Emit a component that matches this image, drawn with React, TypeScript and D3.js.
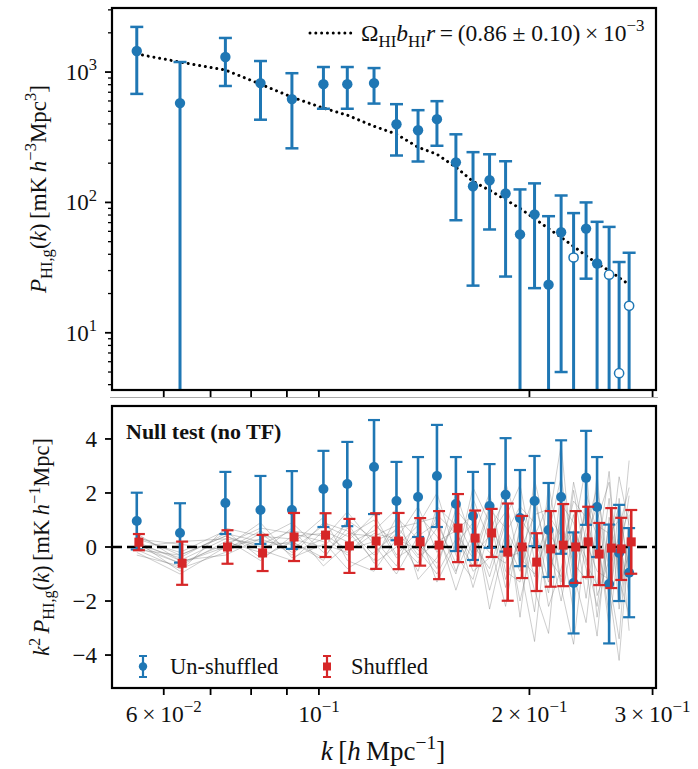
import React from 'react';
import * as d3 from 'd3';

// ---------- data ----------
const kValues = [0.0549, 0.0633, 0.0735, 0.0825, 0.0915, 0.1015, 0.1098, 0.1199, 0.1291, 0.1386, 0.1475, 0.157, 0.1661, 0.1754, 0.1849, 0.1939, 0.2034, 0.213, 0.222, 0.2313, 0.241, 0.2499, 0.26, 0.2687, 0.2777];
// cross power (negative values drawn as open circles at |P|)
const powerValues = [1450, 578, 1304, 823, 620, 808, 808, 823, 398, 358, 435, 203, 133, 148, 117, 56.8, 81, 23.4, 59, -37.8, 63, 34, -27.9, -4.9, -16.1];
const powerErrors = [770, 616, 522, 392, 360, 285, 285, 250, 169, 152, 163, 130, 110, 86, 90, 69, 59, 55, 54, 45, 37, 37, 37, 30, 25];
const modelValues = [1375, 1194, 1036, 808, 642, 529, 467, 384, 334, 265, 234, 186, 145, 124, 105, 90, 75, 63, 54, 46, 39, 34, 30, 26.5, 23.4];

const unshuffled = [0.96, 0.52, 1.63, 1.37, 1.37, 2.15, 2.33, 2.96, 1.7, 1.85, 2.63, 1.59, 1.15, 1.52, 1.93, 1.07, 1.7, 0.63, 1.85, -1.33, 2.56, 1.48, -1.37, -0.22, -0.95];
const unshuffledErr = [1.05, 1.1, 1.15, 1.26, 1.44, 1.41, 1.56, 1.74, 1.45, 1.48, 1.89, 1.74, 1.63, 1.55, 2.1, 1.78, 1.67, 1.74, 2.1, 1.87, 1.74, 1.85, 2.2, 1.78, 1.65];
const shuffled = [0.18, -0.6, 0.0, -0.22, 0.37, 0.44, 0.04, 0.22, 0.22, 0.19, 0.07, 0.7, 0.33, 0.52, -0.19, 0.0, -0.56, -0.07, 0.07, 0.0, 0.19, -0.26, -0.04, -0.07, 0.19];
const shuffledErr = [0.3, 0.8, 0.62, 0.67, 0.89, 0.81, 1.0, 1.03, 1.04, 0.88, 1.26, 1.26, 1.02, 0.89, 1.8, 1.15, 1.07, 1.4, 1.52, 1.33, 1.3, 1.15, 1.48, 1.15, 1.18];

const mock1 = [0.2, -0.5, 0.3, 0.1, 0.6, 0.4, -0.3, 0.8, 0.2, -0.6, 1.2, 0.5, -0.4, 1.5, -1.2, 0.3, 2.0, -0.8, 1.1, -1.5, 0.7, 2.2, -0.9, 0.4, -1.8];
const mock2 = [-0.1, -0.8, -0.2, 0.5, -0.3, 0.9, 0.6, -0.5, 1.1, 0.3, -0.8, 1.4, 0.6, -1.1, 0.9, -2.0, 0.4, 1.6, -1.3, 2.1, -0.6, -1.4, 1.8, -2.3, 0.6];
const mock3 = [0.3, -0.2, 0.6, -0.4, 0.2, -0.5, 1.0, 0.3, -0.7, 1.2, 0.4, -1.0, 1.8, 0.2, -2.2, 0.8, -1.1, 0.5, 2.6, -0.4, 1.3, -2.6, 0.3, 1.5, -0.9];
const mock4 = [0.0, -0.6, 0.1, 0.7, 0.5, 0.2, -0.8, -0.2, 0.5, -0.9, 1.5, 0.8, -1.5, 0.6, 1.8, -0.7, -3.5, 1.2, 0.4, -2.4, 2.0, 0.6, -3.0, 0.2, 1.4];
const mock5 = [0.4, -0.3, 0.4, -0.1, -0.5, 0.6, 0.2, 1.2, -0.3, 0.6, -1.3, 0.1, 0.9, -1.6, 0.5, 1.5, 0.9, -2.2, -0.8, 1.2, -1.9, 1.0, 2.4, -1.2, -2.5];
const mock6 = [-0.2, -1.0, 0.0, 0.3, 0.9, -0.2, 0.5, 0.4, 0.8, -0.3, 0.7, -1.6, 0.3, 2.0, -0.9, -1.3, 2.5, 0.2, -2.0, 0.5, 3.0, -1.8, -0.5, 2.6, 0.8];
const mock7 = [0.1, -0.4, 0.5, 0.2, 0.1, 1.1, -0.5, -0.9, 0.3, 1.5, -0.2, 0.9, -0.9, -0.4, 2.4, 0.5, -1.6, -3.2, 1.6, 0.9, -0.8, -3.3, 1.1, -0.6, 1.9];
const mock8 = [0.3, 0.1, -0.1, 0.6, -0.2, 0.3, 1.3, 0.1, -1.0, 0.4, 0.9, -0.6, 2.2, 0.9, -0.4, -0.2, 1.2, 1.4, -1.5, -3.6, 0.4, 1.5, -1.6, -4.2, 0.3];
const mock9 = [-0.3, -0.7, 0.2, -0.2, 0.7, -0.7, 0.1, 0.6, 1.4, -1.2, -0.4, 2.0, 0.1, -0.8, 1.1, 2.3, -0.5, 0.9, 3.8, -1.0, -2.8, 0.8, 0.5, 1.0, -3.1];
const mock10 = [0.2, -0.9, 0.7, 0.4, 0.3, 0.0, 0.9, -0.6, 0.0, 0.8, 2.0, -0.3, -1.2, 1.1, -1.5, 0.6, -2.4, 2.3, -0.2, 1.7, 1.1, -0.4, 2.8, -1.5, -0.2];
const mock11 = [0.0, 0.2, 0.3, -0.5, 0.4, 0.5, -0.1, 0.2, 0.6, -0.4, 0.2, 0.6, 1.2, -2.3, 0.3, -0.9, 0.8, -1.3, 0.9, -0.6, -1.2, 2.7, -2.1, 0.7, 2.2];
const mock12 = [0.5, -0.5, -0.3, 0.3, -0.1, 0.8, 0.4, 1.0, -0.4, 0.1, -0.6, 1.1, -0.3, 0.4, 1.3, -2.6, 1.7, -0.4, -1.1, 2.4, 0.2, -0.9, -1.2, -3.4, 1.2];
const mock13 = [-0.1, -0.3, 0.4, 0.0, 0.2, -0.4, 0.7, -0.3, 0.7, 0.9, 1.1, -0.9, 0.5, -0.2, -0.6, 1.1, 0.2, -1.7, 2.1, -1.2, 1.6, 0.4, -2.5, 1.8, -1.4];
const mock14 = [0.1, -0.6, 0.0, 0.9, -0.4, 0.1, -0.2, 0.5, 0.3, -0.1, -1.0, 0.3, -0.7, 1.4, 0.7, -0.4, -1.0, 0.6, -0.3, 0.6, -0.4, -2.2, 0.9, -0.8, 3.2];
const mockLines = [mock1, mock2, mock3, mock4, mock5, mock6, mock7, mock8, mock9, mock10, mock11, mock12, mock13, mock14];

const xTicks = [0.06, 0.07, 0.08, 0.09, 0.1, 0.2, 0.3];
const xLabelTicks = [0.06, 0.1, 0.2, 0.3];
const xLabelMantissa = ['6\u2009×\u2009', '', '2\u2009×\u2009', '3\u2009×\u2009'];
const xLabelExponent = ['−2', '−1', '−1', '−1'];
const yTopMajor = [10, 100, 1000];
const yTopMajorExp = ['1', '2', '3'];
const yTopMinor = [4, 5, 6, 7, 8, 9, 20, 30, 40, 50, 60, 70, 80, 90, 200, 300, 400, 500, 600, 700, 800, 900, 2000, 3000];
const yBottomTicks = [4, 2, 0, -2, -4];
const yBottomLabels = ['4', '2', '0', '−2', '−4'];

// ---------- layout ----------
const W = 698, H = 769;
const L = 112, R = 656;
const T1 = 8, B1 = 390;
const T2 = 406, B2 = 688;
const BLUE = '#1f77b4';
const RED = '#d62728';
const FONT = "'Liberation Serif', 'DejaVu Serif', serif";

type Part = { t: string; s?: 'sup' | 'sub'; i?: boolean };

function MText(props: { x: number; y: number; parts: Part[]; fs: number; anchor?: string; transform?: string; bold?: boolean }) {
  const { x, y, parts, fs, anchor, transform, bold } = props;
  let cur = 0;
  return (
    <text x={x} y={y} fontSize={fs} textAnchor={anchor || 'start'} transform={transform}
      fontFamily={FONT} fontWeight={bold ? 'bold' : 'normal'} style={{ whiteSpace: 'pre' }} fill="#111">
      {parts.map((p, idx) => {
        const target = p.s === 'sup' ? -0.42 * fs : p.s === 'sub' ? 0.24 * fs : 0;
        const dy = target - cur;
        cur = target;
        return (
          <tspan key={idx} dy={dy} fontSize={p.s ? fs * 0.72 : fs} fontStyle={p.i ? 'italic' : 'normal'}>{p.t}</tspan>
        );
      })}
    </text>
  );
}

export default function App() {
  const x = d3.scaleLog().domain([0.0506, 0.3034]).range([L, R]);
  const yTop = d3.scaleLog().domain([3.64, 3100]).range([B1, T1]);
  const yBot = d3.scaleLinear().domain([-5.22, 5.22]).range([B2, T2]);

  const modelLine = d3.line<number>().x((_, i) => x(kValues[i])).y(d => yTop(d));
  const mockLine = d3.line<number>().x((_, i) => x(kValues[i])).y(d => yBot(d));

  const capTop = 6.5;
  const capBot = 6;

  return (
    <svg width={W} height={H} style={{ position: 'absolute', left: 0, top: 0, background: '#fff' }}>
      <defs>
        <clipPath id="clipTop"><rect x={L} y={T1} width={R - L} height={B1 - T1} /></clipPath>
        <clipPath id="clipBot"><rect x={L} y={T2} width={R - L} height={B2 - T2} /></clipPath>
      </defs>
      <rect x={0} y={0} width={W} height={H} fill="#fff" />

      {/* ===== TOP PANEL ===== */}
      <g clipPath="url(#clipTop)">
        <path d={modelLine(modelValues) || ''} fill="none" stroke="#000" strokeWidth={3}
          strokeDasharray="0.01 5.8" strokeLinecap="round" />
        {powerValues.map((p, i) => {
          const v = Math.abs(p);
          const hi = v + powerErrors[i];
          const lo = v - powerErrors[i];
          const cx = x(kValues[i]);
          const yHi = yTop(hi);
          const yLo = lo > 0 ? yTop(lo) : B1 + 5;
          return (
            <g key={i}>
              <line x1={cx} x2={cx} y1={yHi} y2={yLo} stroke={BLUE} strokeWidth={3} />
              <line x1={cx - capTop} x2={cx + capTop} y1={yHi} y2={yHi} stroke={BLUE} strokeWidth={2.5} />
              {lo > 0 && <line x1={cx - capTop} x2={cx + capTop} y1={yLo} y2={yLo} stroke={BLUE} strokeWidth={2.5} />}
              {p > 0
                ? <circle cx={cx} cy={yTop(v)} r={5.2} fill={BLUE} />
                : <circle cx={cx} cy={yTop(v)} r={4.6} fill="#fff" stroke={BLUE} strokeWidth={1.5} />}
            </g>
          );
        })}
      </g>
      <rect x={L} y={T1} width={R - L} height={B1 - T1} fill="none" stroke="#000" strokeWidth={2.2} />
      {yTopMajor.map((v, i) => (
        <g key={'ytm' + i}>
          <line x1={L - 7} x2={L} y1={yTop(v)} y2={yTop(v)} stroke="#000" strokeWidth={1.8} />
          <MText x={97} y={yTop(v) + 8} fs={23} anchor="end" parts={[{ t: '10' }, { t: yTopMajorExp[i], s: 'sup' }]} />
        </g>
      ))}
      {yTopMinor.filter(v => yTop(v) > T1 && yTop(v) < B1).map((v, i) => (
        <line key={'ytn' + i} x1={L - 4} x2={L} y1={yTop(v)} y2={yTop(v)} stroke="#000" strokeWidth={1.3} />
      ))}
      {xTicks.map((v, i) => (
        <line key={'xt1' + i} x1={x(v)} x2={x(v)} y1={B1} y2={B1 + 7} stroke="#000" strokeWidth={1.8} />
      ))}
      {/* legend top */}
      <line x1={310} x2={356} y1={33} y2={33} stroke="#000" strokeWidth={3} strokeDasharray="0.01 5.8" strokeLinecap="round" />
      <MText x={361} y={41} fs={23.5} parts={[
        { t: 'Ω' }, { t: 'HI', s: 'sub' }, { t: 'b', i: true }, { t: 'HI', s: 'sub' }, { t: 'r', i: true },
        { t: '\u2009=\u2009(0.86 ± 0.10)\u2009×\u200910' }, { t: '−3', s: 'sup' },
      ]} />
      <MText x={46} y={189} fs={23} anchor="middle" transform="rotate(-90, 46, 189)" parts={[
        { t: 'P', i: true }, { t: 'HI,g', s: 'sub' }, { t: '(' }, { t: 'k', i: true }, { t: ')\u2009[mK\u2009' },
        { t: 'h', i: true }, { t: '−3', s: 'sup' }, { t: 'Mpc' }, { t: '3', s: 'sup' }, { t: ']' },
      ]} />

      {/* separator */}
      <line x1={110} x2={658} y1={397.5} y2={397.5} stroke="#aaa" strokeWidth={1} />

      {/* ===== BOTTOM PANEL ===== */}
      <g clipPath="url(#clipBot)">
        {mockLines.map((m, j) => (
          <path key={'m' + j} d={mockLine(m) || ''} fill="none" stroke="#7a7a7a" strokeOpacity={0.42} strokeWidth={0.9} />
        ))}
        <line x1={L} x2={R} y1={yBot(0)} y2={yBot(0)} stroke="#000" strokeWidth={2.6} strokeDasharray="10 5" />
        {unshuffled.map((v, i) => {
          const cx = x(kValues[i]);
          const yh = yBot(v + unshuffledErr[i]);
          const yl = yBot(v - unshuffledErr[i]);
          return (
            <g key={'u' + i}>
              <line x1={cx} x2={cx} y1={yh} y2={yl} stroke={BLUE} strokeWidth={2.6} />
              <line x1={cx - capBot} x2={cx + capBot} y1={yh} y2={yh} stroke={BLUE} strokeWidth={2.2} />
              <line x1={cx - capBot} x2={cx + capBot} y1={yl} y2={yl} stroke={BLUE} strokeWidth={2.2} />
              <circle cx={cx} cy={yBot(v)} r={5} fill={BLUE} />
            </g>
          );
        })}
        {shuffled.map((v, i) => {
          const cx = x(kValues[i] * 1.007);
          const yh = yBot(v + shuffledErr[i]);
          const yl = yBot(v - shuffledErr[i]);
          return (
            <g key={'s' + i}>
              <line x1={cx} x2={cx} y1={yh} y2={yl} stroke={RED} strokeWidth={2.6} />
              <line x1={cx - capBot} x2={cx + capBot} y1={yh} y2={yh} stroke={RED} strokeWidth={2.2} />
              <line x1={cx - capBot} x2={cx + capBot} y1={yl} y2={yl} stroke={RED} strokeWidth={2.2} />
              <rect x={cx - 4.5} y={yBot(v) - 4.5} width={9} height={9} fill={RED} />
            </g>
          );
        })}
      </g>
      <rect x={L} y={T2} width={R - L} height={B2 - T2} fill="none" stroke="#000" strokeWidth={2.2} />
      {yBottomTicks.map((v, i) => (
        <g key={'yb' + i}>
          <line x1={L - 7} x2={L} y1={yBot(v)} y2={yBot(v)} stroke="#000" strokeWidth={1.8} />
          <text x={97} y={yBot(v) + 8} fontSize={23} textAnchor="end" fontFamily={FONT} fill="#111">{yBottomLabels[i]}</text>
        </g>
      ))}
      {xTicks.map((v, i) => (
        <line key={'xt2' + i} x1={x(v)} x2={x(v)} y1={B2} y2={B2 + 7} stroke="#000" strokeWidth={1.8} />
      ))}
      {xLabelTicks.map((v, i) => (
        <MText key={'xl' + i} x={x(v)} y={722} fs={23.5} anchor="middle"
          parts={[{ t: xLabelMantissa[i] + '10' }, { t: xLabelExponent[i], s: 'sup' }]} />
      ))}
      <MText x={383} y={760} fs={27} anchor="middle" parts={[
        { t: 'k', i: true }, { t: '\u2009[' }, { t: 'h', i: true }, { t: '\u2009Mpc' }, { t: '−1', s: 'sup' }, { t: ']' },
      ]} />
      <MText x={49} y={547} fs={22.5} anchor="middle" transform="rotate(-90, 49, 547)" parts={[
        { t: 'k', i: true }, { t: '2', s: 'sup' }, { t: '\u2009' }, { t: 'P', i: true }, { t: 'HI,g', s: 'sub' }, { t: '(' },
        { t: 'k', i: true }, { t: ')\u2009[mK\u2009' }, { t: 'h', i: true }, { t: '−1', s: 'sup' }, { t: 'Mpc]' },
      ]} />
      <text x={126} y={439} fontSize={22} fontWeight="bold" fontFamily={FONT} fill="#111">Null test (no TF)</text>

      {/* legend bottom */}
      <g>
        <line x1={143} x2={143} y1={656} y2={677} stroke={BLUE} strokeWidth={2.2} />
        <line x1={139} x2={147} y1={656} y2={656} stroke={BLUE} strokeWidth={2} />
        <line x1={139} x2={147} y1={677} y2={677} stroke={BLUE} strokeWidth={2} />
        <circle cx={143} cy={666.5} r={4.2} fill={BLUE} />
        <text x={170} y={674} fontSize={22.5} fontFamily={FONT} fill="#111">Un-shuffled</text>
        <line x1={327} x2={327} y1={656} y2={677} stroke={RED} strokeWidth={2.2} />
        <line x1={323} x2={331} y1={656} y2={656} stroke={RED} strokeWidth={2} />
        <line x1={323} x2={331} y1={677} y2={677} stroke={RED} strokeWidth={2} />
        <rect x={323} y={662.5} width={8} height={8} fill={RED} />
        <text x={351} y={674} fontSize={22.5} fontFamily={FONT} fill="#111">Shuffled</text>
      </g>
    </svg>
  );
}
